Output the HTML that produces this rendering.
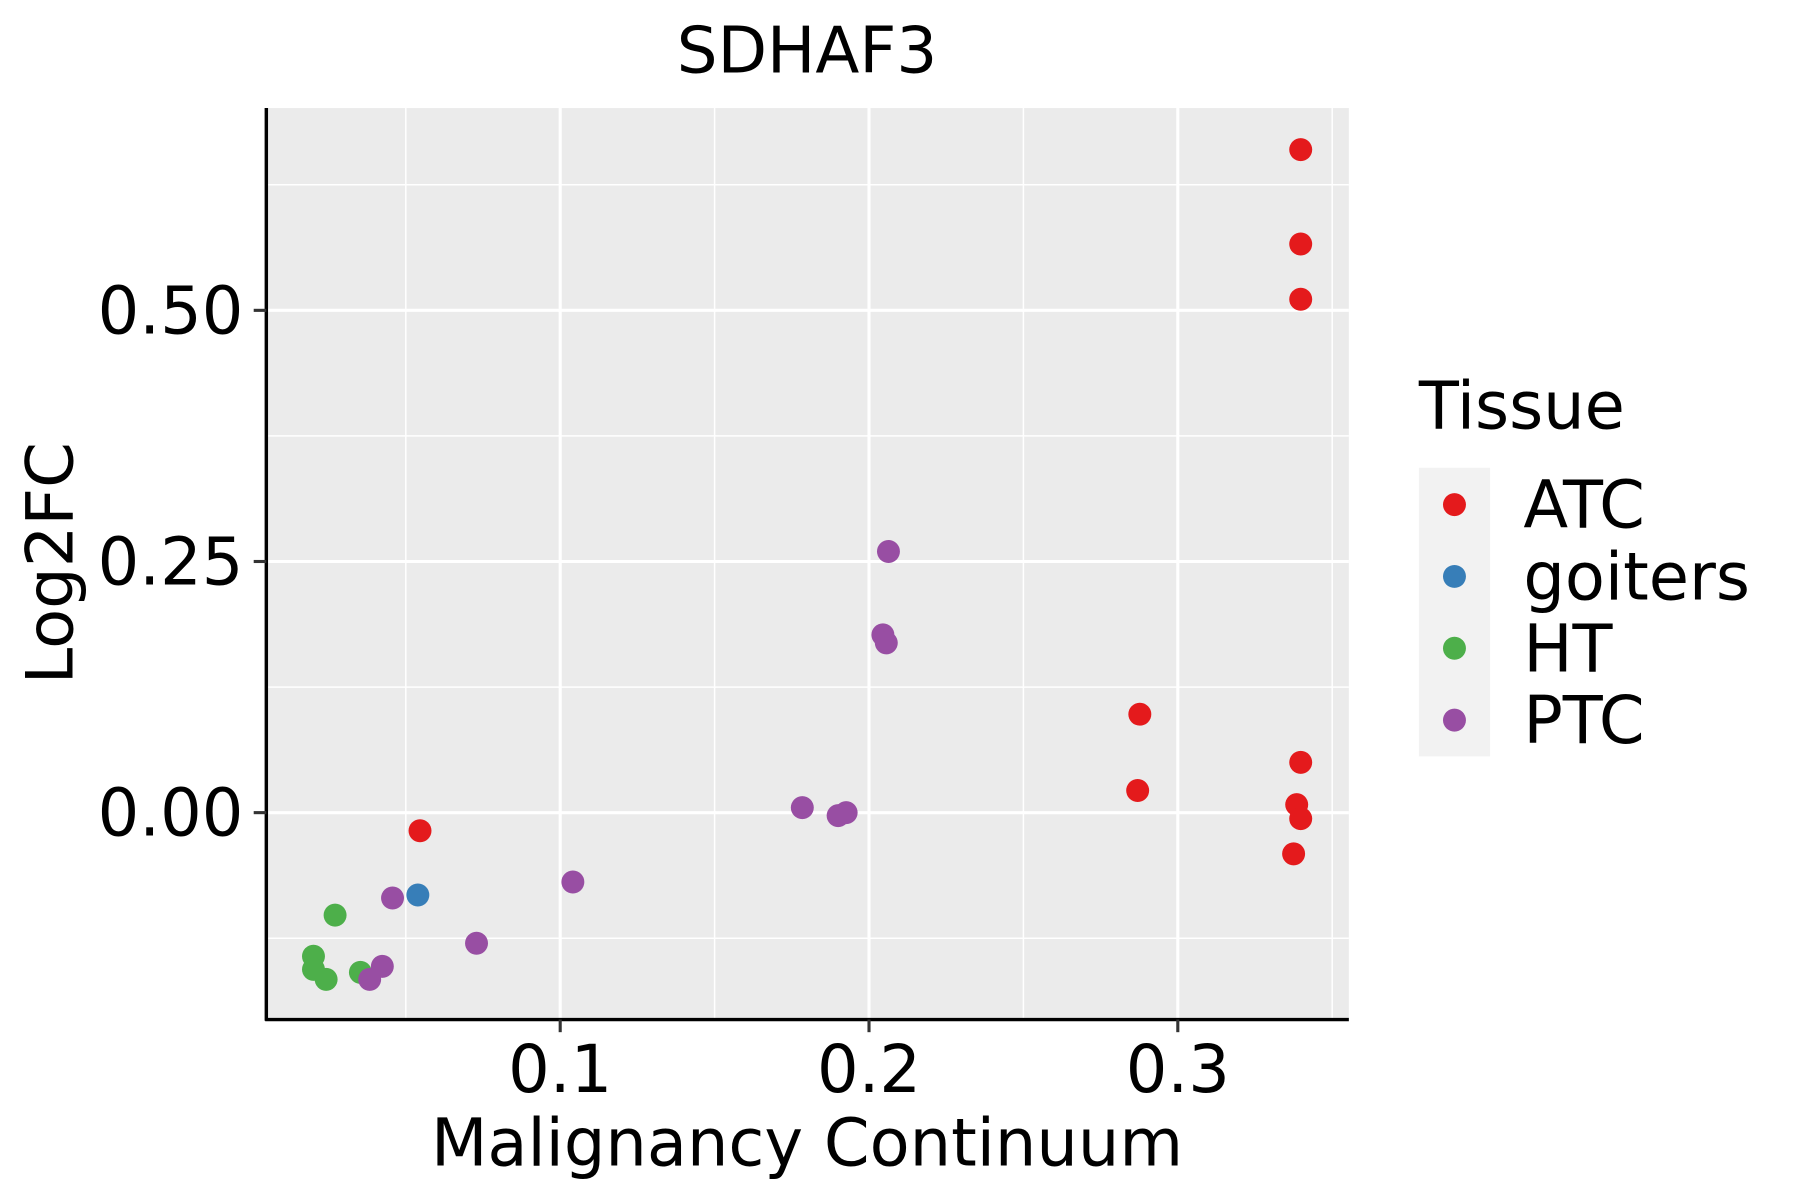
<!DOCTYPE html>
<html><head><meta charset="utf-8"><style>
html,body{margin:0;padding:0;background:#fff;}
svg{display:block;font-family:"DejaVu Sans","Liberation Sans",sans-serif;}
</style></head><body>
<svg id="chart" width="1800" height="1200" viewBox="0 0 1568 1044" preserveAspectRatio="none" xmlns="http://www.w3.org/2000/svg">
<text x="703" y="63" font-size="56" text-anchor="middle">SDHAF3</text>
<rect x="232" y="94" width="943" height="793" fill="#ebebeb"/>
<g id="grid"></g>
<g id="points"></g>
<line x1="232" y1="94" x2="232" y2="888" stroke="#000" stroke-width="3"/>
<line x1="231" y1="887" x2="1175" y2="887" stroke="#000" stroke-width="3"/>
<g id="ticks"></g>
<text x="703" y="1014" font-size="57" text-anchor="middle">Malignancy Continuum</text>
<text transform="translate(63,490) rotate(-90)" font-size="57" text-anchor="middle">Log2FC</text>
<g>
<text x="1236" y="373" font-size="57">Tissue</text>
<rect x="1236" y="407" width="62" height="251" fill="#f2f2f2"/>
<g id="legend-entries"></g>
</g>
</svg>
<script>
const categories = ["ATC","goiters","HT","PTC"];
const colors = ["#e41a1c","#377eb8","#4daf4a","#984ea3"];
const atcX = [0.3398,0.3398,0.3398,0.2877,0.2870,0.3398,0.3385,0.3398,0.3375,0.0546];
const atcY = [0.660,0.566,0.511,0.098,0.022,0.050,0.008,-0.006,-0.041,-0.018];
const goitersX = [0.0539];
const goitersY = [-0.082];
const htX = [0.0271,0.0201,0.0201,0.0242,0.0353];
const htY = [-0.102,-0.143,-0.156,-0.166,-0.159];
const ptcX = [0.2063,0.2045,0.2056,0.1784,0.1900,0.1926,0.1041,0.0729,0.0457,0.0424,0.0383];
const ptcY = [0.260,0.177,0.169,0.005,-0.003,0.000,-0.069,-0.130,-0.085,-0.153,-0.166];
const xTicks = [0.1,0.2,0.3];
const xTickLabels = ["0.1","0.2","0.3"];
const xMinor = [0.05,0.15,0.25,0.35];
const yTicks = [0,0.25,0.5];
const yTickLabels = ["0.00","0.25","0.50"];
const yMinor = [-0.125,0.125,0.375,0.625];

const NS="http://www.w3.org/2000/svg";
function sx(v){return 488+(v-0.1)*2690;}
function sy(v){return 707-v*874;}
function mk(tag,attrs,parent){const e=document.createElementNS(NS,tag);for(const k in attrs)e.setAttribute(k,attrs[k]);parent.appendChild(e);return e;}
const grid=document.getElementById('grid'),ticks=document.getElementById('ticks'),pts=document.getElementById('points'),leg=document.getElementById('legend-entries');
xMinor.forEach(v=>{const l=mk('line',{x1:sx(v),x2:sx(v),y1:94,y2:887,stroke:'#fff','stroke-width':1.3},grid);

});
yMinor.forEach(v=>{const l=mk('line',{x1:232,x2:1175,y1:sy(v),y2:sy(v),stroke:'#fff','stroke-width':1.3},grid);

});
xTicks.forEach((v,i)=>{const l=mk('line',{x1:sx(v),x2:sx(v),y1:94,y2:887,stroke:'#fff','stroke-width':2.7},grid);


const t=mk('line',{x1:sx(v),x2:sx(v),y1:887,y2:898,stroke:'#333','stroke-width':2.7},ticks);


const tx=mk('text',{x:sx(v),y:950,'font-size':57,'text-anchor':'middle',fill:'#000'},ticks);tx.textContent=xTickLabels[i];

});
yTicks.forEach((v,i)=>{const l=mk('line',{x1:232,x2:1175,y1:sy(v),y2:sy(v),stroke:'#fff','stroke-width':2.7},grid);


const t=mk('line',{x1:221,x2:232,y1:sy(v),y2:sy(v),stroke:'#333','stroke-width':2.7},ticks);


const tx=mk('text',{x:212,y:sy(v)+20,'font-size':57,'text-anchor':'end',fill:'#000'},ticks);tx.textContent=yTickLabels[i];

});
const series=[[atcX,atcY],[goitersX,goitersY],[htX,htY],[ptcX,ptcY]];
series.forEach((s,ci)=>{s[0].forEach((xv,j)=>{const c=mk('circle',{cx:sx(xv),cy:sy(s[1][j]),r:10,fill:colors[ci]},pts);

});});
categories.forEach((c,i)=>{const y=439+i*62.5;
const k=mk('circle',{cx:1267,cy:y,r:10,fill:colors[i]},leg);


const t=mk('text',{x:1327,y:y+20,'font-size':57},leg);t.textContent=c;

});
</script>
</body></html>
